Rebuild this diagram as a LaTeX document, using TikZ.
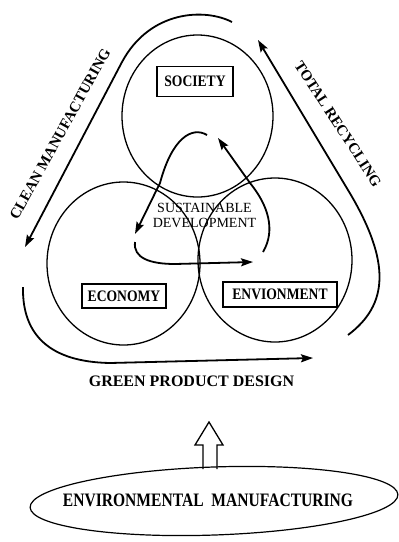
\documentclass[tikz,border=0pt]{standalone}
\usepackage{fontspec}
\setmainfont{Liberation Serif}
\newfontfamily\boxfont[FakeStretch=0.85]{Liberation Serif}
\newfontfamily\bigfont[FakeStretch=0.82]{Liberation Serif}
\usetikzlibrary{arrows.meta,shapes.geometric}
\tikzset{
  ring/.style={draw, line width=1.3pt},
  labelbox/.style={draw, line width=1.2pt, inner sep=0pt, font=\boxfont\bfseries\fontsize{16}{16}\selectfont},
  flow/.style={line width=1.8pt, -{Stealth[length=12pt,width=8pt,inset=2pt]}},
  sidetext/.style={font=\bfseries\fontsize{15}{15}\selectfont, inner sep=0pt},
}
\begin{document}
\begin{tikzpicture}[x=1pt,y=-1pt]
\useasboundingbox (0,0) rectangle (399,542);
% three circles
\node (soc) [ellipse, ring, minimum width=151pt, minimum height=162pt] at (197.5,116) {};
\node (eco) [ellipse, ring, minimum width=153pt, minimum height=163pt] at (123.5,263.5) {};
\node (env) [ellipse, ring, minimum width=154pt, minimum height=164pt] at (275,260) {};
% boxes
\node (socbox) [labelbox, minimum width=76pt, minimum height=30pt] at (195,81.5) {SOCIETY};
\node (ecobox) [labelbox, minimum width=84pt, minimum height=24pt] at (124,296) {ECONOMY};
\node (envbox) [labelbox, minimum width=114pt, minimum height=25pt] at (280,294.5) {ENVIONMENT};
% sustainable development text
\node (sd) [font=\fontsize{14}{15}\selectfont, align=center, inner sep=0pt] at (204.5,215) {SUSTAINABLE\\DEVELOPMENT};
% inner arrows
\coordinate (a1s) at (207,135);
\coordinate (a1e) at (135,234);
\draw[flow] (a1s) .. controls (192,126) and (172,138) .. (160,183) -- (a1e);
\coordinate (a2s) at (135,242);
\coordinate (a2e) at (253,262);
\draw[flow] (a2s) .. controls (133,258) and (150,264) .. (175,264) -- (a2e);
\coordinate (a3s) at (263,252);
\coordinate (a3e) at (218,138);
\draw[flow] (a3s) .. controls (276,230) and (268,205) .. (250,183) -- (a3e);
% outer arrows
\coordinate (cms) at (232,22);
\coordinate (cme) at (25,247);
\draw[flow] (cms) .. controls (205,8) and (150,10) .. (122,62) -- (cme);
\coordinate (trs) at (348,335);
\coordinate (tre) at (258,40);
\draw[flow] (trs) .. controls (388,305) and (392,263) .. (348,190) -- (tre);
\coordinate (gps) at (23,287);
\coordinate (gpe) at (313,358);
\draw[flow] (gps) .. controls (22,335) and (50,362) .. (110,363) -- (gpe);
% side labels
\node (cm) [sidetext, rotate=61] at (60,134) {CLEAN MANUFACTURING};
\node (tr) [sidetext, rotate=-57] at (338,124) {TOTAL RECYCLING};
\node (gp) [font=\bfseries\fontsize{16}{16}\selectfont, inner sep=0pt] at (191.5,381) {GREEN PRODUCT DESIGN};
% bottom ellipse
\node (em) [ellipse, draw, line width=1.2pt, minimum width=368pt, minimum height=68pt, rotate=2] at (214,501) {};
\node (emt) [font=\bigfont\bfseries\fontsize{19}{19}\selectfont, inner sep=0pt] at (208,500) {ENVIRONMENTAL\ \ MANUFACTURING};
% hollow up arrow
\draw[line width=1.3pt, line join=miter] (203,469) -- (203,445) -- (195,445) -- (209,422) -- (223,445) -- (217,445) -- (217,469);
\end{tikzpicture}
\end{document}
